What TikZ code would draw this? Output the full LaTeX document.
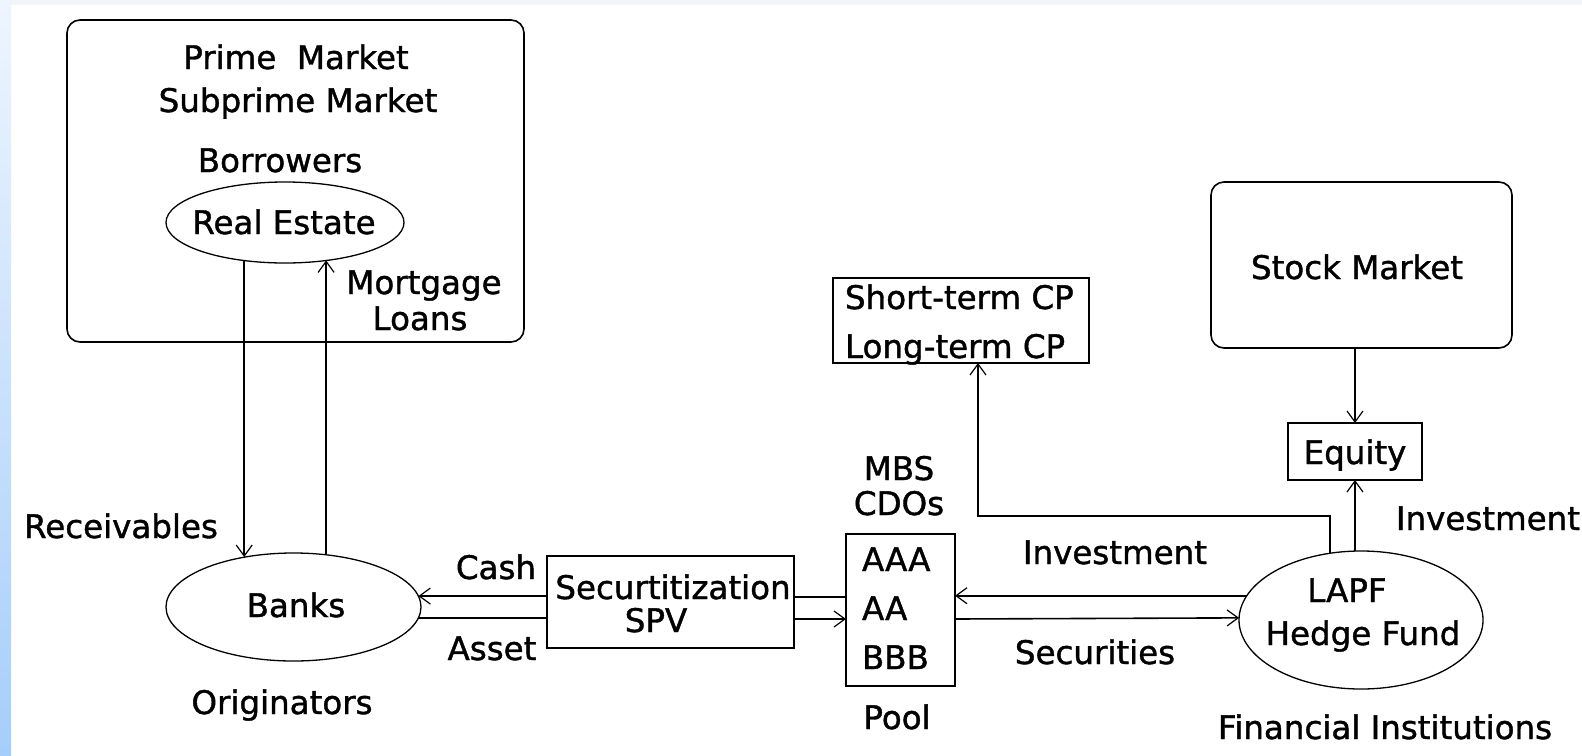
\documentclass[tikz,border=0pt]{standalone}
\usepackage{fontspec}
\setmainfont[FakeBold=1.2]{DejaVu Sans}
\usetikzlibrary{arrows.meta,shapes.geometric,calc}
\definecolor{stripT}{HTML}{EEF5FE}
\definecolor{stripB}{HTML}{A6CEFA}
\definecolor{topc}{HTML}{F2F5FA}
\begin{document}
\begin{tikzpicture}[x=1pt,y=-1pt,
  box/.style={draw, line width=1.6pt, rectangle, inner sep=0pt, outer sep=0pt},
  rbox/.style={box, rounded corners=13pt},
  oval/.style={draw, line width=1.3pt, ellipse, inner sep=0pt, outer sep=0pt},
  lbl/.style={anchor=base, inner sep=0pt, outer sep=0pt, font=\fontsize{32.5}{39}\selectfont},
  lbll/.style={lbl, anchor=base west},
  conn/.style={line width=1.6pt},
  arr/.style={conn, -{Straight Barb[length=11pt,width=16pt,line width=1.2pt]}}]
\useasboundingbox (0,0) rectangle (1582,755);
\fill[white] (0,0) rectangle (1582,755);
\fill[topc] (0,0) rectangle (1582,5);
\shade[top color=stripT, bottom color=stripB] (0,0) rectangle (11,755);

% shapes
\node[rbox, minimum width=457pt, minimum height=322pt] (market) at (295.5,181) {};
\node[oval, minimum width=238pt, minimum height=81pt] (re) at (285,222.5) {};
\node[oval, minimum width=255pt, minimum height=108pt] (banks) at (293.5,607) {};
\node[box, minimum width=247pt, minimum height=92pt] (spv) at (670.5,602) {};
\node[box, minimum width=109pt, minimum height=152pt] (pool) at (900.5,610) {};
\node[box, minimum width=256pt, minimum height=85pt] (cp) at (961,320.5) {};
\node[rbox, minimum width=301pt, minimum height=166pt] (stock) at (1361.5,265) {};
\node[box, minimum width=134pt, minimum height=57pt] (equity) at (1355,451.5) {};
\node[oval, minimum width=244pt, minimum height=138pt] (lapf) at (1361,620) {};

% texts
\node[lbl] (tprime) at (296,69) {Prime\ \ Market};
\node[lbl] (tsub) at (298,112) {Subprime Market};
\node[lbl] (tborr) at (280,172) {Borrowers};
\node[lbl] (tre) at (284,234) {Real Estate};
\node[lbl] (tmort) at (424,294) {Mortgage};
\node[lbl] (tloans) at (420,330) {Loans};
\node[lbl] (trec) at (121,538) {Receivables};
\node[lbl] (tbanks) at (296,617) {Banks};
\node[lbl] (torig) at (282,714) {Originators};
\node[lbl] (tcash) at (496,579) {Cash};
\node[lbl] (tasset) at (492,660) {Asset};
\node[lbl] (tsec) at (673,599) {Securtitization};
\node[lbl] (tspv) at (656,632) {SPV};
\node[lbl] (tmbs) at (899,480) {MBS};
\node[lbl] (tcdo) at (899,515) {CDOs};
\node[lbll] (taaa) at (862,571) {AAA};
\node[lbll] (taa) at (862,620) {AA};
\node[lbll] (tbbb) at (862,669) {BBB};
\node[lbl] (tpool) at (897,729) {Pool};
\node[lbll] (tshort) at (845,309) {Short-term CP};
\node[lbll] (tlong) at (845,358) {Long-term CP};
\node[lbl] (tstock) at (1357,279) {Stock Market};
\node[lbl] (tequity) at (1355,464) {Equity};
\node[lbl] (tinv1) at (1115,564) {Investment};
\node[lbl] (tinv2) at (1488,530) {Investment};
\node[lbl] (tsecur) at (1095,664) {Securities};
\node[lbl] (tlapf) at (1347,602) {LAPF};
\node[lbl] (thedge) at (1363,645) {Hedge Fund};
\node[lbl] (tfin) at (1385,739) {Financial Institutions};

% helper coordinates
\coordinate (yu) at (0,597);
\coordinate (yl) at (0,619);
\coordinate (turn) at (978,516);

% connectors
\draw[arr] (re.223.6) -- (re.223.6 |- banks.134.2);
\draw[arr] (banks.58.1) -- (banks.58.1 |- re.-42.8);
\draw[arr] (spv.west |- banks.5.04) -- (banks.5.04);
\draw[conn] (banks.-5.5) -- (spv.west |- banks.-5.5);
\draw[conn] (spv.east |- yu) -- (pool.west |- yu);
\draw[arr] (spv.east |- yl) -- (pool.west |- yl);
\draw[arr] (lapf.168.7) -- (pool.east |- lapf.168.7);
\draw[arr] (pool.east |- yl) -- (lapf.179.5);
\draw[arr] (lapf.95) -- (lapf.95 |- equity.south);
\draw[arr] (stock.south -| equity.north) -- (equity.north);
\draw[arr] (lapf.115.7) |- (turn) -- ([xshift=17pt]cp.south);
\end{tikzpicture}
\end{document}
